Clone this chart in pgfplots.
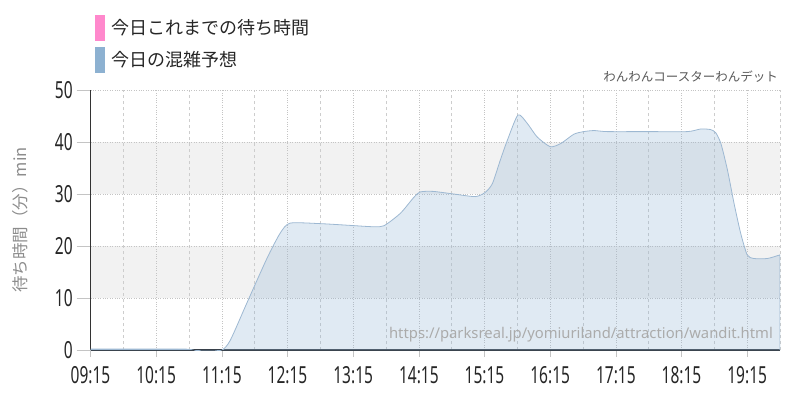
\documentclass[border=0pt]{standalone}
\usepackage{fontspec}
\usepackage{pgfplots}
\pgfplotsset{compat=1.18}
\setmainfont{Noto Sans CJK JP}
\newfontfamily\tickfont[FakeStretch=0.66]{Noto Sans}
\newfontfamily\urlfont{Noto Sans}
\definecolor{legpink}{HTML}{FF88CC}
\definecolor{legblue}{HTML}{8DB1D1}
\definecolor{areablue}{HTML}{8DB1D1}
\definecolor{areaedge}{HTML}{9DB8D2}
\definecolor{band}{HTML}{F2F2F2}
\definecolor{gridc}{HTML}{C4C4C4}

\begin{document}
\begin{tikzpicture}
\begin{axis}[
    set layers,
    at={(90.5pt,50pt)}, anchor=south west,
    scale only axis, width=689.5pt, height=260pt,
    xmin=9.25, xmax=19.75, ymin=0, ymax=50,
    axis x line=bottom, axis y line=left,
    x axis line style={-, black, line width=1.2pt},
    y axis line style={-, black!80, line width=0.8pt},
    xtick={9.25,10.25,...,19.25},
    xticklabels={09:15,10:15,11:15,12:15,13:15,14:15,15:15,16:15,17:15,18:15,19:15},
    minor xtick={9.75,10.75,...,19.75},
    ytick={0,10,...,50},
    tick align=outside,
    xtick style={gridc, /pgfplots/major tick length=7pt},
    ytick style={gridc, /pgfplots/major tick length=14pt},
    minor tick length=0pt,
    xmajorgrids, xminorgrids, ymajorgrids,
    major grid style={dotted, gridc, line width=0.6pt},
    minor grid style={dashed, gridc!85, line width=0.6pt},
    /pgf/number format/assume math mode=true,
    ticklabel style={font=\tickfont\fontsize{23.5}{24}\selectfont, text=black!85},
    xticklabel style={yshift=-9pt},
    yticklabel style={xshift=-10pt},
    ylabel={待ち時間（分）min},
    ylabel style={at={(axis description cs:-0.102,0.5)}, anchor=center,
        font=\fontsize{16.5}{17}\selectfont, text=black!45},
]
\begin{pgfonlayer}{axis background}
\fill[band] (axis cs:9.25,10) rectangle (axis cs:19.75,20);
\fill[band] (axis cs:9.25,30) rectangle (axis cs:19.75,40);
\end{pgfonlayer}
\addplot[smooth, tension=0.4, draw=areaedge, line width=0.8pt,
    fill=areablue, fill opacity=0.27] coordinates {
    (9.25,0.2) (9.75,0.2) (10.25,0.2) (10.74,0.15) (11.0,-0.4) (11.25,0.0)
    (11.38,1.9) (11.63,9.0) (11.94,17.7) (12.14,22.5) (12.29,24.4) (12.75,24.3)
    (13.16,24.0) (13.56,23.7) (13.72,23.9) (13.97,26.3) (14.17,29.3) (14.27,30.4)
    (14.47,30.5) (14.78,30.0) (15.11,29.5) (15.26,30.3) (15.37,32.0) (15.49,36.5)
    (15.60,40.4) (15.76,45.2) (15.90,43.6) (16.05,41.0) (16.25,39.1) (16.41,39.7)
    (16.61,41.5) (16.76,42.0) (16.92,42.2) (17.12,42.0) (17.75,42.0) (18.34,42.0)
    (18.54,42.5) (18.69,42.4) (18.77,41.8) (18.85,39.7) (18.95,34.6) (19.05,28.2)
    (19.15,22.5) (19.25,18.3) (19.35,17.6) (19.56,17.6) (19.75,18.3)
} \closedcycle;
\end{axis}

% legend
\fill[legpink] (95pt,359pt) rectangle (105pt,385pt);
\node[anchor=west, inner sep=0pt, font=\fontsize{18}{20}\selectfont, text=black!85] at (111pt,372pt) {今日これまでの待ち時間};
\fill[legblue] (95pt,327pt) rectangle (105pt,353pt);
\node[anchor=west, inner sep=0pt, font=\fontsize{18}{20}\selectfont, text=black!85] at (111pt,340pt) {今日の混雑予想};

% title and source
\node[anchor=east, inner sep=0pt, font=\fontsize{12.5}{14}\selectfont, text=black!65] at (778pt,323pt) {わんわんコースターわんデット};
\node[anchor=east, inner sep=0pt, font=\urlfont\fontsize{14.8}{16}\selectfont, text=black!33] at (773pt,65pt) {https://parksreal.jp/yomiuriland/attraction/wandit.html};
\path (0,0) rectangle (800pt,400pt);
\end{tikzpicture}
\end{document}
